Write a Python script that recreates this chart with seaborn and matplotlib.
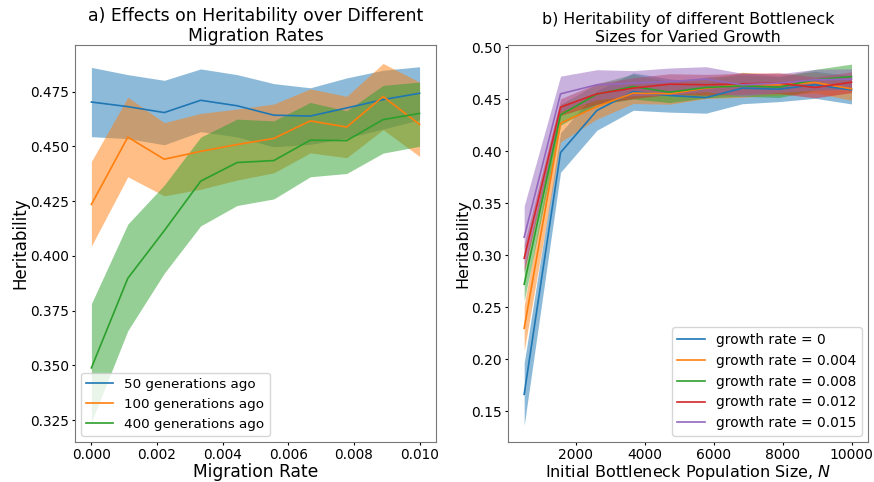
import numpy as np
import pandas as pd
import matplotlib
matplotlib.use("Agg")
import matplotlib.pyplot as plt
import seaborn as sns

# ---------------- Panel a data ----------------
migration_rates = [0.0, 0.00111, 0.00222, 0.00333, 0.00444, 0.00556, 0.00667, 0.00778, 0.00889, 0.01]
gen_labels = ["50 generations ago", "100 generations ago", "400 generations ago"]

gen50_mean = [0.4702, 0.4681, 0.4654, 0.4710, 0.4685, 0.4642, 0.4638, 0.4675, 0.4713, 0.4742]
gen50_low = [0.4544, 0.4535, 0.4507, 0.4567, 0.4543, 0.4498, 0.4509, 0.4538, 0.4579, 0.4621]
gen50_high = [0.4860, 0.4827, 0.4801, 0.4853, 0.4827, 0.4786, 0.4767, 0.4812, 0.4847, 0.4863]

gen100_mean = [0.4235, 0.4542, 0.4441, 0.4477, 0.4508, 0.4536, 0.4616, 0.4588, 0.4727, 0.4600]
gen100_low = [0.4045, 0.4361, 0.4274, 0.4304, 0.4346, 0.4379, 0.4470, 0.4448, 0.4576, 0.4454]
gen100_high = [0.4431, 0.4724, 0.4608, 0.4650, 0.4670, 0.4693, 0.4762, 0.4728, 0.4878, 0.4793]

gen400_mean = [0.3489, 0.3898, 0.4115, 0.4341, 0.4426, 0.4435, 0.4528, 0.4526, 0.4622, 0.4650]
gen400_low = [0.3242, 0.3659, 0.3921, 0.4137, 0.4230, 0.4260, 0.4361, 0.4376, 0.4469, 0.4500]
gen400_high = [0.3782, 0.4145, 0.4323, 0.4542, 0.4624, 0.4616, 0.4700, 0.4662, 0.4778, 0.4793]

# ---------------- Panel b data ----------------
bottleneck_sizes = [500, 1556, 2611, 3667, 4722, 5778, 6833, 7889, 8944, 10000]
growth_labels = ["growth rate = 0", "growth rate = 0.004", "growth rate = 0.008",
                 "growth rate = 0.012", "growth rate = 0.015"]

g0_mean = [0.1663, 0.3987, 0.4391, 0.4573, 0.4535, 0.4515, 0.4606, 0.4596, 0.4638, 0.4589]
g0_ci = [0.0300, 0.0190, 0.0190, 0.0180, 0.0160, 0.0150, 0.0150, 0.0120, 0.0130, 0.0135]
g004_mean = [0.2298, 0.4269, 0.4429, 0.4558, 0.4551, 0.4606, 0.4638, 0.4638, 0.4660, 0.4599]
g004_ci = [0.0220, 0.0180, 0.0120, 0.0100, 0.0100, 0.0100, 0.0120, 0.0100, 0.0100, 0.0110]
g008_mean = [0.2721, 0.4349, 0.4548, 0.4621, 0.4567, 0.4612, 0.4628, 0.4615, 0.4686, 0.4717]
g008_ci = [0.0160, 0.0100, 0.0100, 0.0120, 0.0100, 0.0100, 0.0100, 0.0100, 0.0100, 0.0120]
g012_mean = [0.2971, 0.4423, 0.4551, 0.4606, 0.4644, 0.4638, 0.4647, 0.4654, 0.4612, 0.4663]
g012_ci = [0.0130, 0.0080, 0.0100, 0.0100, 0.0100, 0.0100, 0.0100, 0.0100, 0.0100, 0.0100]
g015_mean = [0.3173, 0.4551, 0.4638, 0.4654, 0.4669, 0.4692, 0.4638, 0.4654, 0.4686, 0.4692]
g015_ci = [0.0300, 0.0170, 0.0145, 0.0120, 0.0130, 0.0120, 0.0110, 0.0090, 0.0100, 0.0100]

palette = sns.color_palette("tab10")

fig = plt.figure(figsize=(8.74, 4.82), dpi=100)
ax1 = fig.add_axes([0.0858, 0.083, 0.413, 0.824])
ax2 = fig.add_axes([0.581, 0.083, 0.412, 0.824])

# ---- Panel a ----
gen_means = [gen50_mean, gen100_mean, gen400_mean]
gen_lows = [gen50_low, gen100_low, gen400_low]
gen_highs = [gen50_high, gen100_high, gen400_high]
for i, lab in enumerate(gen_labels):
    df = pd.DataFrame({"x": migration_rates, "y": gen_means[i]})
    sns.lineplot(data=df, x="x", y="y", ax=ax1, color=palette[i], lw=1.2, label=lab)
    ax1.fill_between(migration_rates, gen_lows[i], gen_highs[i], color=palette[i],
                     alpha=0.5, lw=0)
ax1.set_title("a) Effects on Heritability over Different\nMigration Rates", fontsize=12.4,
              pad=1.5, linespacing=1.12)
ax1.set_xlabel("Migration Rate", fontsize=12.3, labelpad=1)
ax1.set_ylabel("Heritability", fontsize=12, labelpad=0.5)
ax1.set_xticks([0.0, 0.002, 0.004, 0.006, 0.008, 0.010])
ax1.set_xticklabels(["0.000", "0.002", "0.004", "0.006", "0.008", "0.010"])
ax1.set_yticks([0.325, 0.35, 0.375, 0.4, 0.425, 0.45, 0.475])
ax1.set_yticklabels(["0.325", "0.350", "0.375", "0.400", "0.425", "0.450", "0.475"])
ax1.tick_params(labelsize=9.8, length=2.5, pad=1.8)
ax1.set_ylim(0.3151, 0.4963)
ax1.legend(loc="lower left", fontsize=9.7, borderaxespad=0.45)

# ---- Panel b ----
g_means = [g0_mean, g004_mean, g008_mean, g012_mean, g015_mean]
g_cis = [g0_ci, g004_ci, g008_ci, g012_ci, g015_ci]
for i, lab in enumerate(growth_labels):
    m = np.array(g_means[i])
    c = np.array(g_cis[i])
    df = pd.DataFrame({"x": bottleneck_sizes, "y": m})
    sns.lineplot(data=df, x="x", y="y", ax=ax2, color=palette[i], lw=1.2, label=lab)
    ax2.fill_between(bottleneck_sizes, m - c, m + c, color=palette[i], alpha=0.5, lw=0)
ax2.set_title("b) Heritability of different Bottleneck\nSizes for Varied Growth", fontsize=11.4,
              pad=1.5, linespacing=1.2)
ax2.set_xlabel("Initial Bottleneck Population Size, $N$", fontsize=11.5, labelpad=1)
ax2.set_ylabel("Heritability", fontsize=11.5, labelpad=0.5)
ax2.set_xticks([2000, 4000, 6000, 8000, 10000])
ax2.set_yticks([0.15, 0.20, 0.25, 0.30, 0.35, 0.40, 0.45, 0.50])
ax2.set_yticklabels(["0.15", "0.20", "0.25", "0.30", "0.35", "0.40", "0.45", "0.50"])
ax2.tick_params(labelsize=10, length=2.5, pad=1.8)
ax2.set_ylim(0.1205, 0.5022)
ax2.legend(loc="lower right", fontsize=9.9, borderaxespad=0.45)

for ax in (ax1, ax2):
    for s in ax.spines.values():
        s.set_color("#777777")

fig.savefig("out.png", dpi=100)
